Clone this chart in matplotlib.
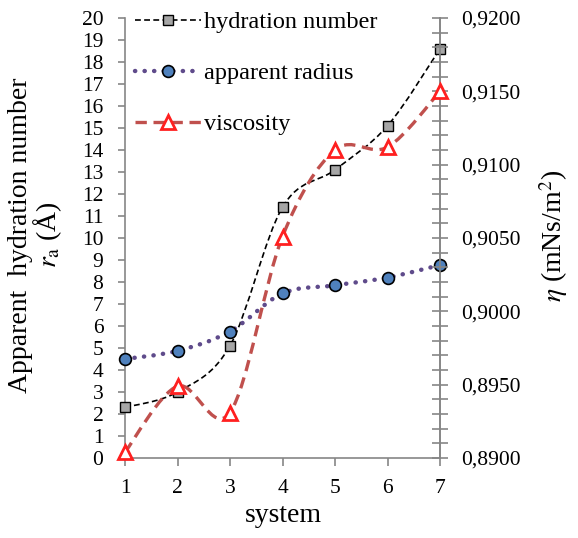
import numpy as np
import matplotlib
matplotlib.use("Agg")
import matplotlib.pyplot as plt
from matplotlib.path import Path
from matplotlib.patches import PathPatch
from matplotlib.lines import Line2D
from matplotlib.ticker import FuncFormatter, MultipleLocator

plt.rcParams["font.family"] = ["Liberation Serif", "DejaVu Serif"]
plt.rcParams["mathtext.fontset"] = "stix"

# data
system = [1, 2, 3, 4, 5, 6, 7]
hydration = [2.3, 3.0, 5.1, 11.4, 13.1, 15.1, 18.6]
radius = [4.5, 4.87, 5.75, 7.48, 7.85, 8.2, 8.77]
viscosity = [0.8904, 0.8949, 0.8931, 0.9051, 0.9110, 0.9112, 0.9150]

GREY = "#868686"


def smooth_path(x, y):
    # Excel-like smoothed line: cubic bezier through every point
    pts = np.column_stack([x, y]).astype(float)
    n = len(pts)
    verts = [pts[0]]
    codes = [Path.MOVETO]
    for i in range(n - 1):
        p0 = pts[max(i - 1, 0)]
        p1 = pts[i]
        p2 = pts[i + 1]
        p3 = pts[min(i + 2, n - 1)]
        verts += [p1 + (p2 - p0) / 6, p2 - (p3 - p1) / 6, p2]
        codes += [Path.CURVE4] * 3
    return Path(verts, codes)


fig = plt.figure(figsize=(5.78, 5.38), dpi=100)
ax = fig.add_axes([125 / 578, 1 - 458 / 538, 315 / 578, 440 / 538])
ax2 = ax.twinx()

hyd_style = dict(color="black", lw=1.2, ls=(0, (3.5, 2)))
rad_style = dict(color="#5F4B8B", lw=3.2, ls=(0, (0.05, 2.1)))
vis_style = dict(color="#C0504D", lw=2.4, ls=(0, (3.4, 2)))

ax.add_patch(PathPatch(smooth_path(system, hydration), fill=False,
                       edgecolor=hyd_style["color"], lw=hyd_style["lw"],
                       ls=hyd_style["ls"], zorder=2))
ax.add_patch(PathPatch(smooth_path(system, radius), fill=False,
                       edgecolor=rad_style["color"], lw=rad_style["lw"],
                       ls=rad_style["ls"], capstyle="round", zorder=2))
ax2.add_patch(PathPatch(smooth_path(system, viscosity), fill=False,
                        edgecolor=vis_style["color"], lw=vis_style["lw"],
                        ls=vis_style["ls"], zorder=2))

sq = dict(marker="s", ms=6.5, mfc="#A6A6A6", mec="black", mew=1.0)
ci = dict(marker="o", ms=8.5, mfc="#4F81BD", mec="black", mew=1.2)
tr = dict(marker="^", ms=10, mfc="white", mec="#FF2020", mew=2.0)

ax.plot(system, hydration, ls="none", zorder=3, clip_on=False, **sq)
ax.plot(system, radius, ls="none", zorder=3, clip_on=False, **ci)
ax2.plot(system, viscosity, ls="none", zorder=3, clip_on=False, **tr)

ax.set_xlim(1, 7)
ax.set_ylim(0, 20)
ax2.set_ylim(0.89, 0.92)

ax.xaxis.set_major_locator(MultipleLocator(1))
ax.yaxis.set_major_locator(MultipleLocator(1))
ax2.yaxis.set_major_locator(MultipleLocator(0.005))
ax2.yaxis.set_minor_locator(MultipleLocator(0.001))
ax2.yaxis.set_major_formatter(FuncFormatter(lambda v, p: f"{v:.4f}".replace(".", ",")))

for a in (ax, ax2):
    a.spines["top"].set_visible(False)
    for s in ("left", "right", "bottom"):
        a.spines[s].set_color(GREY)
        a.spines[s].set_linewidth(1.2)
ax2.spines["left"].set_visible(False)
ax2.spines["bottom"].set_visible(False)

ax.tick_params(axis="x", direction="out", length=6, width=1.2, color=GREY,
               labelsize=15.5, pad=9)
ax.tick_params(axis="y", direction="out", length=5, width=1.2, color=GREY,
               labelsize=15.5, pad=10.5)
ax2.tick_params(axis="y", which="both", direction="inout", length=11, width=1.2,
                color=GREY, labelsize=15.5, pad=10)

# axis titles placed where the reference has them
fig.text(283 / 578, 1 - 515 / 538, "system", fontsize=20, ha="center", va="center")
fig.text(36 / 578, 1 - 235 / 538, "Apparent  hydration number\n$r_\\mathrm{a}$ (Å)",
         fontsize=20, rotation=90, ha="center", va="center", linespacing=0.92,
         multialignment="center")
fig.text(554 / 578, 1 - 236 / 538, "$\\eta$ (mNs/m$^2$)", fontsize=20,
         rotation=90, ha="center", va="center")

handles = [
    Line2D([], [], **hyd_style, **sq),
    Line2D([], [], color=rad_style["color"], lw=rad_style["lw"],
           ls=rad_style["ls"], dash_capstyle="round", **ci),
    Line2D([], [], **vis_style, **tr),
]
leg = ax.legend(handles, ["hydration number", "apparent radius", "viscosity"],
                loc="upper left", bbox_to_anchor=(135 / 578, 1 - 11 / 538),
                bbox_transform=fig.transFigure, frameon=False, fontsize=17.5,
                handlelength=2.7, handletextpad=0.15, labelspacing=1.2,
                borderpad=0, borderaxespad=0)
leg.set_zorder(5)

fig.savefig("out.png", dpi=100)
